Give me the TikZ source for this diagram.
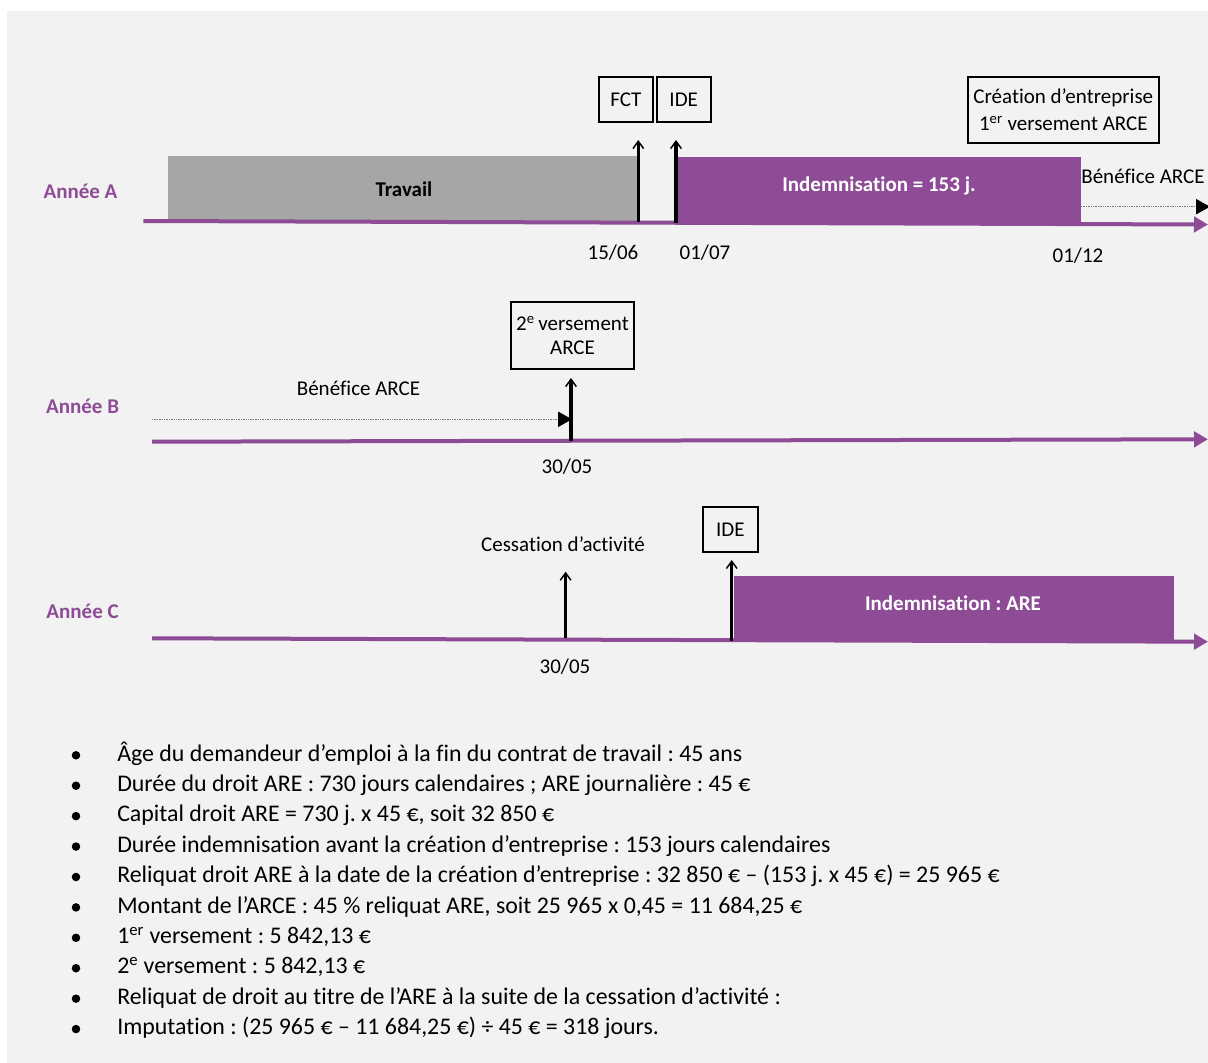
\documentclass[tikz,border=0pt]{standalone}
\usepackage{fontspec}
\setmainfont{Carlito}[Ligatures=NoCommon]
\usetikzlibrary{arrows.meta}
\definecolor{purp}{RGB}{142,76,150}
\definecolor{bgg}{RGB}{242,242,242}
\definecolor{trav}{RGB}{166,166,166}
\definecolor{dotg}{RGB}{120,120,120}
\frenchspacing
\begin{document}
\begin{tikzpicture}[x=0.75pt,y=-0.75pt,
  every node/.style={font=\fontsize{15.75}{19}\selectfont, inner sep=0pt},
  yearlbl/.style={text=purp, font=\fontsize{15.75}{19}\selectfont\bfseries, anchor=base},
  txt/.style={anchor=base},
  bartxt/.style={anchor=base, font=\fontsize{15.75}{19}\selectfont\bfseries},
  boxed/.style={draw=black, line width=1.3pt},
  timeline/.style={draw=purp, line width=3pt, -{Triangle[length=10.5pt,width=11.5pt]}},
  evt/.style={draw=black, line width=2.4pt, -{Straight Barb[length=5.5pt,width=8pt,line width=1.1pt]}},
  benef/.style={draw=dotg, line width=0.7pt, dash pattern=on 1pt off 0.8pt, -{Triangle[length=10.5pt,width=11.5pt,color=black]}},
  bul/.style={anchor=base west, font=\fontsize{17.9}{21}\selectfont}
]
\useasboundingbox (0,0) rectangle (1208,1063);
\fill[white] (0,0) rectangle (1208,1063);
\fill[bgg] (7,11) rectangle (1210,1065);

% ---------- Annee A ----------
\fill[trav] (168.3,156) rectangle (640,221);
\fill[purp] (677,156.7) rectangle (1080.7,222.5);
\node[bartxt] (travail) at (404,196) {Travail};
\node[bartxt, text=white] (indA) at (879,191.5) {Indemnisation = 153 j.};
\node[yearlbl] (anA) at (80.5,198) {Année A};

\coordinate (tAs) at (143.3,221);
\coordinate (tAe) at (1208,224.5);
\draw[timeline] (tAs) -- (tAe);

\coordinate (bAs) at (1081,206.7);
\coordinate (bAe) at (1210,206.7);
\draw[benef] (bAs) -- (bAe);
\node[txt] (benA) at (1143,184) {Bénéfice ARCE};

\node[boxed, minimum width=40.3pt, minimum height=34.2pt] (fct) at (625.9,99.5) {FCT};
\node[boxed, minimum width=40.5pt, minimum height=34.2pt] (ideA) at (683.7,99.5) {IDE};
\node[boxed, minimum width=143.5pt, minimum height=50pt, align=center,
      font=\fontsize{15.75}{20.25}\selectfont] (crea) at (1063.3,110)
      {Création d’entreprise\\1\textsuperscript{er} versement ARCE};

\coordinate (fctB) at (638.3,221.7);
\coordinate (fctT) at (638.3,140);
\coordinate (ideAB) at (676,223);
\coordinate (ideAT) at (676,140);
\draw[evt] (fctB) -- (fctT);
\draw[evt] (ideAB) -- (ideAT);

\node[txt] (d1506) at (613,259) {15/06};
\node[txt] (d0107) at (705,259) {01/07};
\node[txt] (d0112) at (1078,262) {01/12};

% ---------- Annee B ----------
\node[yearlbl] (anB) at (82.6,413.3) {Année B};
\coordinate (tBs) at (152,441.7);
\coordinate (tBe) at (1208,439.3);
\draw[timeline] (tBs) -- (tBe);

\coordinate (bBs) at (152,419.3);
\coordinate (bBe) at (572,419.3);
\draw[benef] (bBs) -- (bBe);
\node[txt] (benB) at (358.5,395.7) {Bénéfice ARCE};

\node[boxed, minimum width=92.2pt, minimum height=50pt, align=center,
      font=\fontsize{15.75}{18}\selectfont] (vers2) at (572.5,335.5)
      {2\textsuperscript{e}\,versement\\ARCE};
\coordinate (v2B) at (571,440.5);
\coordinate (v2T) at (571,378);
\draw[evt] (v2B) -- (v2T);
\node[txt] (d3005B) at (567,473) {30/05};

% ---------- Annee C ----------
\fill[purp] (734,576) rectangle (1174,642.3);
\node[bartxt, text=white] (indC) at (953,610.7) {Indemnisation : ARE};
\node[yearlbl] (anC) at (82.6,618) {Année C};
\coordinate (tCs) at (152,638.3);
\coordinate (tCe) at (1208,641.7);
\draw[timeline] (tCs) -- (tCe);

\node[txt] (cess) at (563,551.7) {Cessation d’activité};
\coordinate (cB) at (565.6,638);
\coordinate (cT) at (565.6,571.7);
\draw[evt] (cB) -- (cT);
\node[txt] (d3005C) at (565,673) {30/05};

\node[boxed, minimum width=41pt, minimum height=34.2pt] (ideC) at (730.3,529.5) {IDE};
\coordinate (iCB) at (731.7,640.7);
\coordinate (iCT) at (731.7,560);
\draw[evt] (iCB) -- (iCT);

% ---------- Bullets ----------
\foreach \k in {0,...,9} {
  \fill (76,761+30.42*\k-5.7) circle[radius=3.2pt];
}
\node[bul] (l1) at (117,761) {Âge du demandeur d’emploi à la fin du contrat de travail : 45 ans};
\node[bul] (l2) at (117,791.4) {Durée du droit ARE : 730 jours calendaires ; ARE journalière : 45 €};
\node[bul] (l3) at (117,821.8) {Capital droit ARE = 730 j. x 45 €, soit 32 850 €};
\node[bul] (l4) at (117,852.3) {Durée indemnisation avant la création d’entreprise : 153 jours calendaires};
\node[bul] (l5) at (117,882.7) {Reliquat droit ARE à la date de la création d’entreprise : 32 850 € – (153 j. x 45 €) = 25 965 €};
\node[bul] (l6) at (117,913.1) {Montant de l’ARCE : 45 \% reliquat ARE, soit 25 965 x 0,45 = 11 684,25 €};
\node[bul] (l7) at (117,943.5) {1\textsuperscript{er} versement : 5 842,13 €};
\node[bul] (l8) at (117,973.9) {2\textsuperscript{e} versement : 5 842,13 €};
\node[bul] (l9) at (117,1004.4) {Reliquat de droit au titre de l’ARE à la suite de la cessation d’activité :};
\node[bul] (l10) at (117,1034.8) {Imputation : (25 965 € – 11 684,25 €) ÷ 45 € = 318 jours.};
\end{tikzpicture}
\end{document}
